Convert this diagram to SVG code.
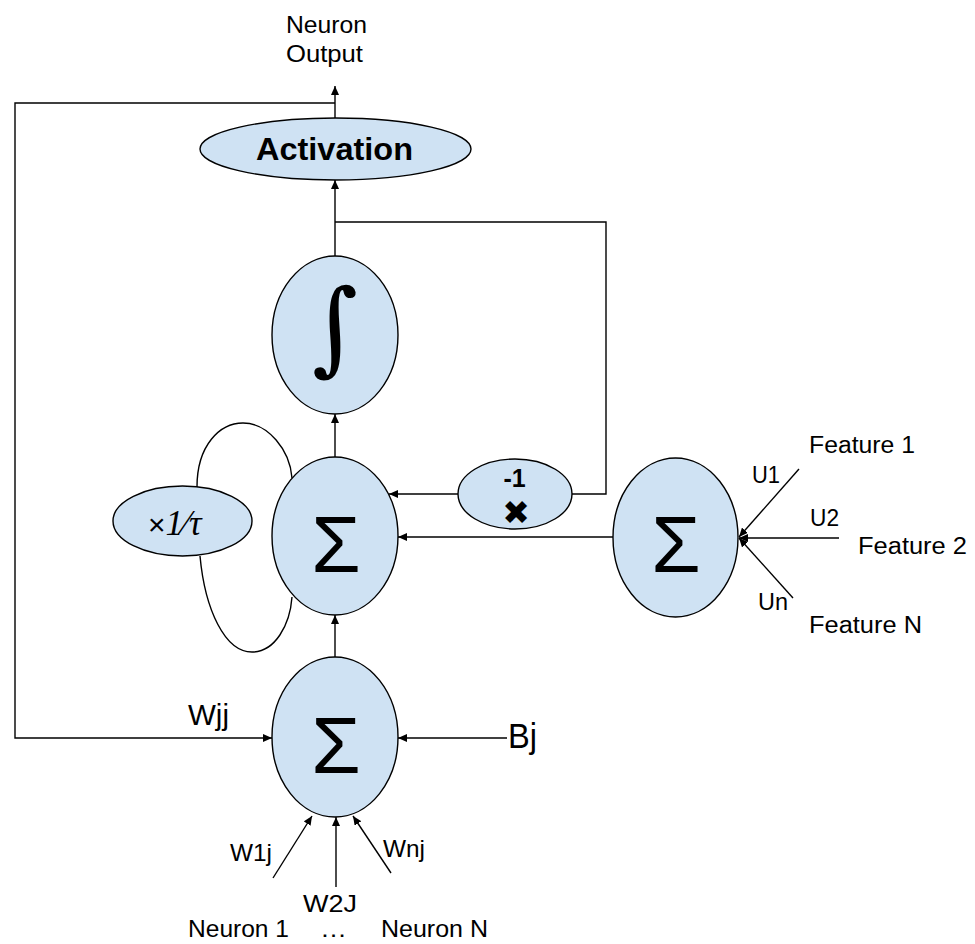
<svg xmlns="http://www.w3.org/2000/svg" width="975" height="944" viewBox="0 0 975 944">
<style>
.node{fill:#cfe2f3;stroke:#000;stroke-width:1.4}
.ln{fill:none;stroke:#000;stroke-width:1.4}
.ar{marker-end:url(#ah)}
.t{font-family:"Liberation Sans",Arial,sans-serif;font-size:23px;fill:#000}
.sig{font-family:"Liberation Sans",Arial,sans-serif;font-size:80px;text-anchor:middle;fill:#000}
</style>
<defs>
<marker id="ah" markerUnits="userSpaceOnUse" markerWidth="10" markerHeight="8" refX="9" refY="4" orient="auto">
<path d="M0,0 L9,4 L0,8 Z" fill="#000"/>
</marker>
</defs>
<rect width="975" height="944" fill="#fff"/>
<g id="loop">
<path class="ln" d="M197,487 C197,445 220,423 243,423 C268,423 290,450 292,478"/>
<path class="ln" d="M200,556 C205,610 225,652 252,652 C275,652 290,625 292,597"/>
</g>
<g id="connectors">
<line class="ln ar" x1="335" y1="118" x2="335" y2="86"/>
<polyline class="ln ar" points="335,103 15,103 15,738 272,738"/>
<line class="ln ar" x1="335" y1="256" x2="335" y2="180"/>
<polyline class="ln" points="335,222 606,222 606,494 572,494"/>
<line class="ln ar" x1="458" y1="494" x2="389" y2="494"/>
<line class="ln ar" x1="613" y1="537" x2="398" y2="537"/>
<line class="ln ar" x1="335" y1="457" x2="335" y2="414"/>
<line class="ln ar" x1="335" y1="657" x2="335" y2="615"/>
<line class="ln ar" x1="507" y1="738" x2="398" y2="738"/>
<line class="ln ar" x1="273" y1="878" x2="312" y2="816"/>
<line class="ln ar" x1="336" y1="887" x2="336" y2="817"/>
<line class="ln ar" x1="391" y1="873" x2="353" y2="816"/>
<line class="ln ar" x1="799" y1="469" x2="739" y2="537"/>
<line class="ln ar" x1="839" y1="538" x2="739" y2="538"/>
<line class="ln ar" x1="793" y1="598" x2="739" y2="538"/>
</g>
<g id="activation">
<ellipse class="node" cx="335.5" cy="149" rx="135.5" ry="31"/>
<text class="t" x="256" y="160" textLength="157" lengthAdjust="spacingAndGlyphs" style="font-size:31px;font-weight:bold">Activation</text>
</g>
<g id="integral">
<ellipse class="node" cx="335" cy="335" rx="63" ry="79"/>
<text x="335" y="362" text-anchor="middle" transform="translate(335,331) skewX(5) translate(-335,-331)" style="font-family:'DejaVu Serif',serif;font-size:102px">∫</text>
</g>
<g id="sum-mid">
<ellipse class="node" cx="335" cy="536" rx="63" ry="79"/>
<text class="sig" x="336" y="572">Σ</text>
</g>
<g id="tau">
<ellipse class="node" cx="182.5" cy="521" rx="69.5" ry="35"/>
<text x="148" y="535" style="font-family:'Liberation Serif',serif;font-size:35px"><tspan style="font-family:'Liberation Sans',sans-serif;font-size:30px">×</tspan><tspan font-style="italic">1⁄τ</tspan></text>
</g>
<g id="neg1">
<ellipse class="node" cx="515" cy="494" rx="57" ry="35"/>
<text class="t" x="514.5" y="487" text-anchor="middle" style="font-size:25px;font-weight:bold">-1</text>
<text x="516" y="524" text-anchor="middle" style="font-family:'DejaVu Sans',sans-serif;font-size:33px">✖</text>
</g>
<g id="sum-right">
<ellipse class="node" cx="675.5" cy="537.5" rx="62.5" ry="79.5"/>
<text class="sig" x="676" y="572">Σ</text>
</g>
<g id="sum-bottom">
<ellipse class="node" cx="335" cy="737" rx="63" ry="80"/>
<text class="sig" x="336" y="773">Σ</text>
</g>
<g id="labels">
<text class="t" x="286" y="33" textLength="81" lengthAdjust="spacingAndGlyphs">Neuron</text>
<text class="t" x="286" y="62" textLength="77" lengthAdjust="spacingAndGlyphs">Output</text>
<text class="t" x="188" y="725" style="font-size:29px" textLength="41" lengthAdjust="spacingAndGlyphs">Wjj</text>
<text class="t" x="508" y="748" style="font-size:35px" textLength="29" lengthAdjust="spacingAndGlyphs">Bj</text>
<text class="t" x="230" y="861" style="font-size:24px" textLength="42" lengthAdjust="spacingAndGlyphs">W1j</text>
<text class="t" x="383" y="857" style="font-size:24px" textLength="42" lengthAdjust="spacingAndGlyphs">Wnj</text>
<text class="t" x="303" y="912" style="font-size:24px" textLength="54" lengthAdjust="spacingAndGlyphs">W2J</text>
<text class="t" x="188" y="937" textLength="101" lengthAdjust="spacingAndGlyphs">Neuron 1</text>
<text class="t" x="320" y="937" textLength="27" lengthAdjust="spacingAndGlyphs">…</text>
<text class="t" x="381" y="937" textLength="107" lengthAdjust="spacingAndGlyphs">Neuron N</text>
<text class="t" x="809" y="453" textLength="106" lengthAdjust="spacingAndGlyphs">Feature 1</text>
<text class="t" x="752" y="483" textLength="28" lengthAdjust="spacingAndGlyphs">U1</text>
<text class="t" x="810" y="526" textLength="29" lengthAdjust="spacingAndGlyphs">U2</text>
<text class="t" x="858" y="554" textLength="109" lengthAdjust="spacingAndGlyphs">Feature 2</text>
<text class="t" x="758" y="610" textLength="30" lengthAdjust="spacingAndGlyphs">Un</text>
<text class="t" x="809" y="633" textLength="113" lengthAdjust="spacingAndGlyphs">Feature N</text>
</g>
</svg>
